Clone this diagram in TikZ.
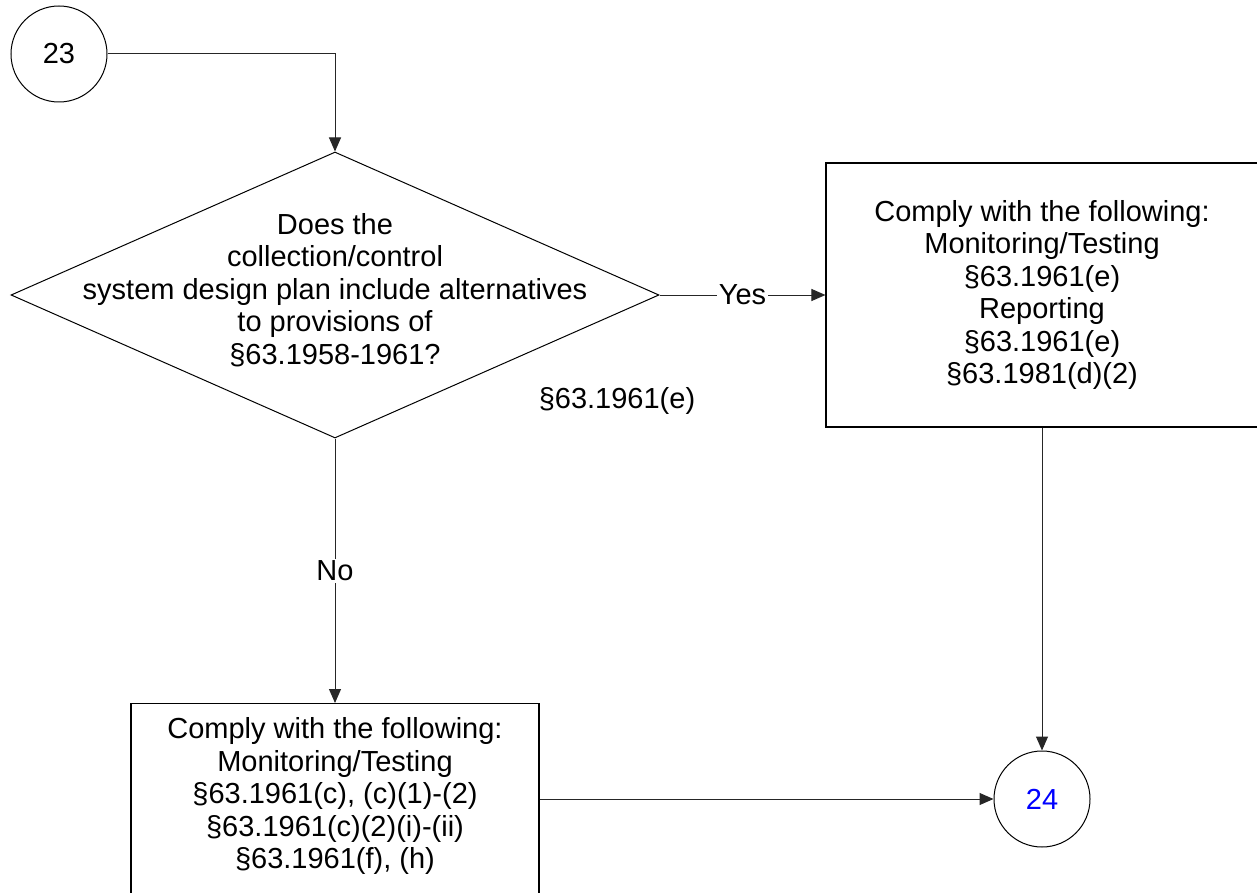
\documentclass[tikz,border=0pt]{standalone}
\usepackage{fontspec}
\setmainfont{Liberation Sans}
\usepackage{xcolor}
\usepackage{tikz}
\usetikzlibrary{arrows.meta}
\usetikzlibrary{shapes.geometric}
\colorlet{linecol}{black!85}
\colorlet{refblue}{blue}
\tikzstyle{connhead}=[>/.tip={Triangle[length=14pt,width=12pt]}]
\tikzstyle{conn}=[line width=1pt,draw=linecol,connhead,->]
\tikzstyle{onconn}=[fill=white,inner sep=2pt]
\tikzstyle{ref}=[circle,draw,line width=1pt,minimum size=96pt,inner sep=0pt]
\tikzstyle{decision}=[diamond,draw,line width=1pt,minimum width=648pt,minimum height=286pt,inner sep=0pt]
\tikzstyle{stepbox}=[rectangle,draw,line width=1.1pt,align=center,inner sep=8pt]
\newcommand\bigtext{\fontsize{29}{32.5}\selectfont}

\begin{document}
\begin{tikzpicture}[x=1pt,y=-1pt,font=\bigtext]
	\useasboundingbox (0,0) rectangle (1257,893);
	\node[ref] (c23) at (59,54) {23};
	\node[decision] (dec) at (335,295) {};
	\node[align=center] (decq) at (335,290) {Does the\\collection/control\\system design plan include alternatives\\to provisions of\\§63.1958-1961?};
	\node[stepbox,minimum width=432pt,minimum height=264pt] (yesbox) at (1042,295)
		{Comply with the following:\\Monitoring/Testing\\§63.1961(e)\\Reporting\\§63.1961(e)\\§63.1981(d)(2)};
	\node[stepbox,anchor=north,minimum width=408pt,inner ysep=14pt,text depth=70pt] (nobox) at (335,703)
		{Comply with the following:\\Monitoring/Testing\\§63.1961(c), (c)(1)-(2)\\§63.1961(c)(2)(i)-(ii)\\§63.1961(f), (h)};
	\node[ref] (c24) at (1042,799) {\color{refblue}24};
	\node (cite) at (617,401) {§63.1961(e)};
	% connectors
	\draw[conn] (c23) -| (dec.north);
	\draw[conn] (dec.east) --node[onconn]{Yes} (yesbox.west);
	\draw[conn] (dec.south) --node[onconn]{No} (nobox.north);
	\draw[conn] (yesbox.south) -- (c24.north);
	\draw[conn] (nobox.east |- c24.west) -- (c24.west);
\end{tikzpicture}
\end{document}
